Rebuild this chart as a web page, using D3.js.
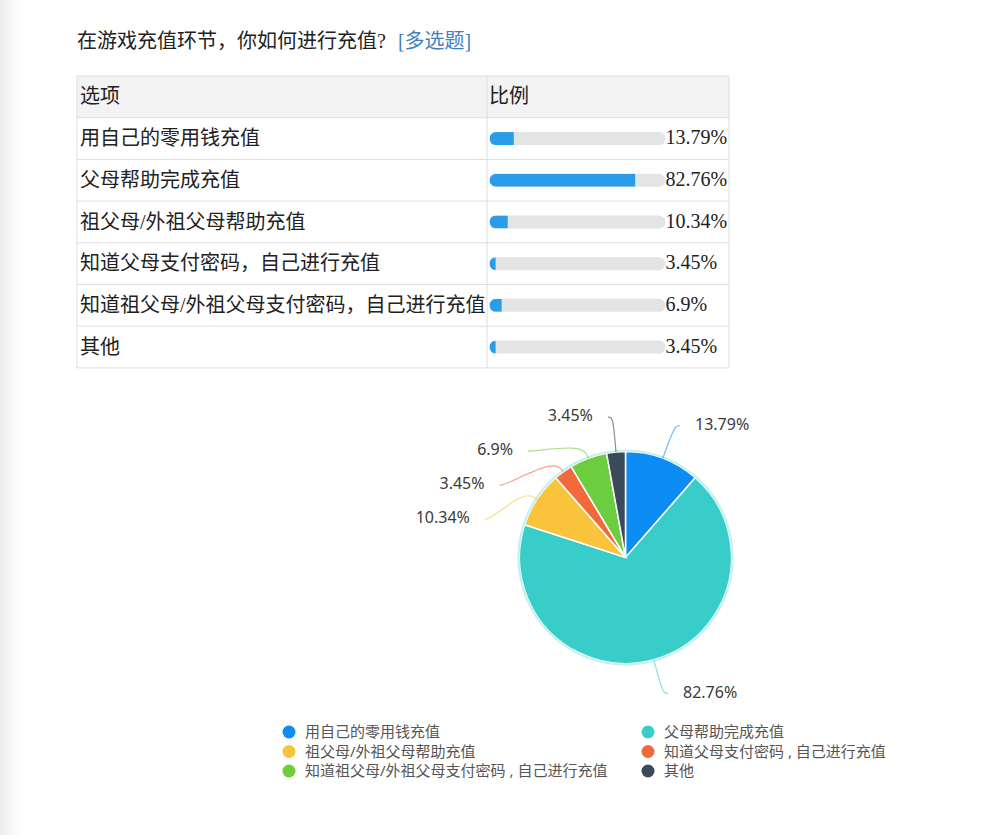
<!DOCTYPE html>
<html>
<head>
<meta charset="utf-8">
<script src="https://cdn.jsdelivr.net/npm/d3@7"></script>
<style>
  html, body { margin: 0; padding: 0; background: #fff; }
  svg { display: block; }
</style>
</head>
<body>
<svg width="1000" height="835"></svg>
<script>
const width = 1000;
const height = 835;

// data
const questionTitle = "在游戏充值环节，你如何进行充值?";
const questionTag = "[多选题]";
const headerLabels = ["选项", "比例"];
const options = [
    "用自己的零用钱充值",
    "父母帮助完成充值",
    "祖父母/外祖父母帮助充值",
    "知道父母支付密码，自己进行充值",
    "知道祖父母/外祖父母支付密码，自己进行充值",
    "其他"
];
const legendLabels = [
    "用自己的零用钱充值",
    "父母帮助完成充值",
    "祖父母/外祖父母帮助充值",
    "知道父母支付密码 , 自己进行充值",
    "知道祖父母/外祖父母支付密码 , 自己进行充值",
    "其他"
];
const percents = [13.79, 82.76, 10.34, 3.45, 6.9, 3.45];
const sliceColors = ["#0d8cf3", "#39cdc9", "#f9c43c", "#f26a3c", "#6ccd3f", "#3b4a5a"];

const serif = "'Liberation Serif', 'Noto Sans CJK SC', serif";
const sans = "'Noto Sans', 'Noto Sans CJK SC', sans-serif";

const svg = d3.select("svg");

// faint shading on the left edge like the photographed page
const defs = svg.append("defs");
const edge = defs.append("linearGradient")
    .attr("id", "edge-shade")
    .attr("x1", "0%").attr("x2", "100%");
edge.append("stop").attr("offset", "0%").attr("stop-color", "#ececec");
edge.append("stop").attr("offset", "100%").attr("stop-color", "#ffffff").attr("stop-opacity", 0);
svg.append("rect")
    .attr("width", 30).attr("height", height)
    .attr("fill", "url(#edge-shade)");

// TITLE
const title = svg.append("text")
    .attr("x", 77)
    .attr("y", 43)
    .attr("dominant-baseline", "middle")
    .attr("font-family", serif)
    .attr("font-size", "20px")
    .attr("fill", "#222");
title.append("tspan").text(questionTitle);
title.append("tspan").attr("dx", 12).attr("fill", "#3c7fc4").text(questionTag);

//TABLE
const tableLeft = 77, tableRight = 729, tableTop = 76, colSplit = 487;
const rowH = 41.7;
const trackX = 489.5, trackW = 176, trackH = 13;

const table = svg.append("g");

table.append("rect")
    .attr("x", tableLeft).attr("y", tableTop)
    .attr("width", tableRight - tableLeft).attr("height", rowH)
    .attr("fill", "#f3f3f3");

const rowY = d3.scaleBand()
    .domain(d3.range(options.length + 1))
    .range([tableTop, tableTop + rowH * (options.length + 1)]);

// grid lines
table.selectAll("line.row-line")
    .data(d3.range(options.length + 2))
    .join("line")
    .attr("class", "row-line")
    .attr("x1", tableLeft).attr("x2", tableRight)
    .attr("y1", d => tableTop + d * rowH)
    .attr("y2", d => tableTop + d * rowH)
    .attr("stroke", "#dedede");

table.selectAll("line.col-line")
    .data([tableLeft, colSplit, tableRight])
    .join("line")
    .attr("class", "col-line")
    .attr("x1", d => d).attr("x2", d => d)
    .attr("y1", tableTop).attr("y2", tableTop + rowH * (options.length + 1))
    .attr("stroke", "#dedede");

table.selectAll("text.header")
    .data(headerLabels)
    .join("text")
    .attr("class", "header")
    .attr("x", (d, i) => i === 0 ? tableLeft + 3 : colSplit + 2)
    .attr("y", rowY(0) + rowH / 2 + 2)
    .attr("dominant-baseline", "middle")
    .attr("font-family", serif)
    .attr("font-size", "20px")
    .attr("fill", "#222")
    .text(d => d);

const barScale = d3.scaleLinear().domain([0, 100]).range([0, trackW]);

const rows = table.selectAll("g.row")
    .data(options.map((d, i) => ({ label: d, value: percents[i], i })))
    .join("g")
    .attr("class", "row")
    .attr("transform", d => `translate(0, ${rowY(d.i + 1)})`);

rows.append("text")
    .attr("x", tableLeft + 3)
    .attr("y", rowH / 2 + 2)
    .attr("dominant-baseline", "middle")
    .attr("font-family", serif)
    .attr("font-size", "20px")
    .attr("fill", "#222")
    .text(d => d.label);

rows.append("clipPath")
    .attr("id", d => `track-clip-${d.i}`)
    .append("rect")
    .attr("x", trackX)
    .attr("y", rowH / 2 - trackH / 2)
    .attr("width", trackW)
    .attr("height", trackH)
    .attr("rx", trackH / 2);

rows.append("rect")
    .attr("x", trackX)
    .attr("y", rowH / 2 - trackH / 2)
    .attr("width", trackW)
    .attr("height", trackH)
    .attr("rx", trackH / 2)
    .attr("fill", "#e3e4e6");

rows.append("rect")
    .attr("clip-path", d => `url(#track-clip-${d.i})`)
    .attr("x", trackX)
    .attr("y", rowH / 2 - trackH / 2)
    .attr("width", d => barScale(d.value))
    .attr("height", trackH)
    .attr("fill", "#2b9de8");

rows.append("text")
    .attr("x", trackX + trackW)
    .attr("y", rowH / 2 + 1)
    .attr("dominant-baseline", "middle")
    .attr("font-family", serif)
    .attr("font-size", "20px")
    .attr("fill", "#222")
    .text(d => d.value + "%");

//PIE
const cx = 625.5, cy = 557.5, radius = 106;
const labelR = 141, labelGap = 34, textOffset = 20;

const pieData = d3.pie().sort(null).value(d => d.value)(
    percents.map((v, i) => ({ value: v, color: sliceColors[i] }))
);
const arc = d3.arc().innerRadius(0).outerRadius(radius);

const pieGroup = svg.append("g").attr("transform", `translate(${cx}, ${cy})`);

pieGroup.selectAll("path.slice")
    .data(pieData)
    .join("path")
    .attr("class", "slice")
    .attr("d", arc)
    .attr("fill", d => d.data.color)
    .attr("stroke", "#fff")
    .attr("stroke-width", 1.5);

// soft cyan glow round the edge
pieGroup.append("circle")
    .attr("r", radius + 1)
    .attr("fill", "none")
    .attr("stroke", "#b5eceb")
    .attr("stroke-opacity", 0.8)
    .attr("stroke-width", 2.2);

// label layout: along mid angle, left side labels pushed down to avoid overlap
const polar = (r, a) => [r * Math.sin(a), -r * Math.cos(a)];
const labels = pieData.map(d => {
    const a = (d.startAngle + d.endAngle) / 2;
    const p = polar(labelR, a);
    return { d, a, right: Math.sin(a) >= 0, x: p[0], y: p[1] };
});
["left", "right"].forEach(side => {
    const group = labels.filter(l => (side === "right") === l.right).sort((a, b) => a.y - b.y);
    for (let k = 1; k < group.length; k++) {
        if (group[k].y - group[k - 1].y < labelGap) {
            group[k].y = group[k - 1].y + labelGap;
            const dx = Math.sqrt(Math.max(0, labelR * labelR - group[k].y * group[k].y));
            group[k].x = group[k].right ? dx : -dx;
        }
    }
});

const leader = d3.line().curve(d3.curveBasis);

pieGroup.selectAll("path.leader")
    .data(labels)
    .join("path")
    .attr("class", "leader")
    .attr("d", l => {
        const p0 = polar(radius, l.a);
        const p1 = polar(radius + 14, l.a);
        const dir = l.right ? 1 : -1;
        return leader([p0, p1, [l.x, l.y], [l.x + dir * 5, l.y]]);
    })
    .attr("fill", "none")
    .attr("stroke", l => l.d.data.color)
    .attr("stroke-opacity", 0.6)
    .attr("stroke-width", 1.2);

pieGroup.selectAll("text.pie-label")
    .data(labels)
    .join("text")
    .attr("class", "pie-label")
    .attr("x", l => l.x + (l.right ? textOffset : -textOffset))
    .attr("y", l => l.y)
    .attr("text-anchor", l => l.right ? "start" : "end")
    .attr("dominant-baseline", "middle")
    .attr("font-family", sans)
    .attr("font-size", "16px")
    .attr("fill", "#3a3a3a")
    .text(l => l.d.data.value + "%");

//LEGEND
const legendCols = [289, 648];
const legendTop = 732, legendStep = 19.5;

const legendItems = svg.selectAll("g.legend-item")
    .data(legendLabels.map((d, i) => ({ label: d, color: sliceColors[i], i })))
    .join("g")
    .attr("class", "legend-item")
    .attr("transform", d => `translate(${legendCols[d.i % 2]}, ${legendTop + Math.floor(d.i / 2) * legendStep})`);

legendItems.append("circle")
    .attr("r", 6.5)
    .attr("fill", d => d.color);

legendItems.append("text")
    .attr("x", 16)
    .attr("y", 1)
    .attr("dominant-baseline", "middle")
    .attr("font-family", sans)
    .attr("font-size", "15px")
    .attr("fill", "#555")
    .text(d => d.label);
</script>
</body>
</html>
